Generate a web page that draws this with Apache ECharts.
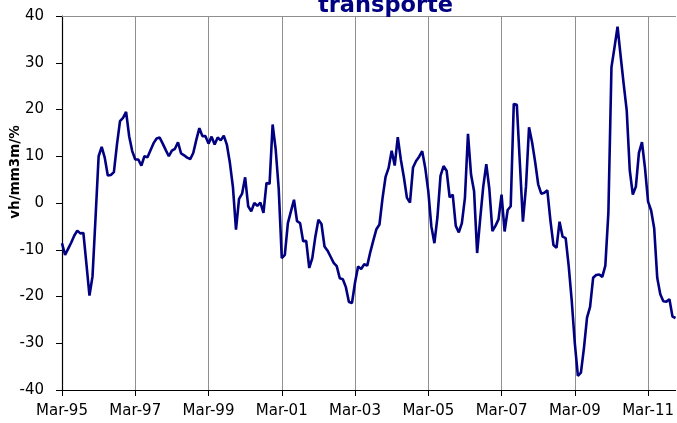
<!DOCTYPE html>
<html>
<head>
<meta charset="utf-8">
<script src="https://cdn.jsdelivr.net/npm/echarts@6/dist/echarts.min.js"></script>
<style>
html,body{margin:0;padding:0;background:#fff;}
#chart{width:677px;height:423px;}
</style>
</head>
<body>
<div id="chart"></div>
<script>
// Monthly series from Mar-95 to Dec-11
var startYear = 1995;
var startMonth = 2; // March (0-based)
var monthNames = ['Jan','Feb','Mar','Apr','May','Jun','Jul','Aug','Sep','Oct','Nov','Dec'];

var values = [
  -8.6, -11.1, -9.8, -8.5, -7.0, -5.9, -6.5, -6.4, -13.0, -19.8,
  -15.7, -3.0, 10.0, 12.0, 9.7, 5.9, 6.0, 6.6, 12.5, 17.5,
  18.2, 19.5, 14.3, 11.1, 9.3, 9.3, 8.0, 10.0, 9.8, 11.3,
  12.8, 13.8, 14.0, 12.7, 11.3, 10.0, 11.2, 11.6, 13.0, 10.6,
  10.2, 9.7, 9.4, 10.7, 13.5, 16.0, 14.3, 14.3, 12.7, 14.2,
  12.5, 14.0, 13.4, 14.4, 12.5, 8.6, 3.4, -5.7, 0.9, 2.0,
  5.5, -0.7, -1.8, 0.0, -0.6, 0.1, -2.1, 4.3, 4.1, 16.8,
  11.5, 3.0, -11.8, -11.1, -4.3, -1.8, 0.7, -3.9, -4.3, -8.2,
  -8.1, -13.9, -11.8, -7.2, -3.6, -4.5, -9.3, -10.2, -11.5, -12.8,
  -13.5, -16.1, -16.3, -18.0, -21.2, -21.4, -17.0, -13.6, -14.1, -13.1,
  -13.4, -10.5, -8.0, -5.6, -4.6, 1.0, 5.6, 7.5, 11.2, 8.0,
  14.1, 9.3, 5.5, 1.1, 0.1, 7.6, 9.0, 9.9, 11.1, 7.5,
  2.5, -5.0, -8.6, -3.0, 5.8, 7.9, 6.9, 1.2, 1.8, -4.9,
  -6.3, -4.3, 1.1, 14.8, 6.1, 2.5, -10.7, -3.4, 3.5, 8.3,
  3.0, -6.0, -4.9, -3.5, 1.8, -6.1, -1.5, -0.7, 21.2, 21.0,
  8.5, -4.0, 3.5, 16.2, 13.0, 8.8, 4.0, 2.0, 2.2, 2.7,
  -3.7, -9.0, -9.6, -4.0, -7.2, -7.5, -13.5, -21.0, -30.0, -37.0,
  -36.3, -31.0, -24.5, -22.2, -16.0, -15.4, -15.3, -15.8, -13.4, -2.0,
  29.0, 33.3, 37.7, 31.5, 25.5, 19.8, 7.0, 1.8, 3.5, 10.7,
  13.0, 7.4, 0.3, -1.6, -5.4, -16.0, -19.5, -21.0, -21.1, -20.6,
  -24.3, -24.6
];

var categories = [];
for (var k = 0; k < values.length; k++) {
  var m = startMonth + k;
  var y = startYear + Math.floor(m / 12);
  var yy = String(y % 100);
  if (yy.length < 2) yy = '0' + yy;
  categories.push(monthNames[m % 12] + '-' + yy);
}

var titleText = 'transporte';
var yAxisTitle = 'vh/mm3m/%';

var chart = echarts.init(document.getElementById('chart'), null, {renderer: 'canvas'});
chart.setOption({
  animation: false,
  backgroundColor: '#ffffff',
  title: {
    text: titleText,
    left: 313,
    top: -10,
    textStyle: {
      color: '#000080',
      fontFamily: 'DejaVu Sans',
      fontWeight: 'bold',
      fontSize: 22.5
    }
  },
  graphic: [{
    type: 'text',
    x: 15,
    y: 172,
    rotation: Math.PI / 2,
    style: {
      text: yAxisTitle,
      fill: '#000',
      font: 'bold 13.5px "DejaVu Sans"',
      align: 'center',
      verticalAlign: 'middle'
    }
  }],
  grid: {
    left: 62,
    right: 0,
    top: 16,
    bottom: 33,
    containLabel: false
  },
  xAxis: [{
    type: 'category',
    data: categories,
    boundaryGap: false,
    axisLine: {show: true, onZero: false, lineStyle: {color: '#000', width: 1.2}},
    axisTick: {show: true, interval: 23, length: 6, lineStyle: {color: '#000'}},
    axisLabel: {
      interval: 23,
      margin: 14,
      color: '#000',
      fontFamily: 'DejaVu Sans',
      fontSize: 15
    },
    splitLine: {show: true, interval: 23, lineStyle: {color: '#8f8f8f', width: 1}}
  }, {
    type: 'category',
    position: 'top',
    data: categories,
    boundaryGap: false,
    axisLine: {show: true, onZero: false, lineStyle: {color: '#8f8f8f', width: 1}},
    axisTick: {show: false},
    axisLabel: {show: false},
    splitLine: {show: false}
  }],
  yAxis: {
    type: 'value',
    min: -40,
    max: 40,
    interval: 10,
    axisLine: {show: true, lineStyle: {color: '#000', width: 1.2}},
    axisTick: {show: true, length: 6, lineStyle: {color: '#000'}},
    axisLabel: {
      margin: 18,
      color: '#000',
      fontFamily: 'DejaVu Sans',
      fontSize: 15
    },
    splitLine: {show: false}
  },
  series: [{
    type: 'line',
    data: values,
    showSymbol: false,
    symbol: 'none',
    lineStyle: {color: '#000080', width: 2.6},
    z: 5
  }]
});
</script>
</body>
</html>
